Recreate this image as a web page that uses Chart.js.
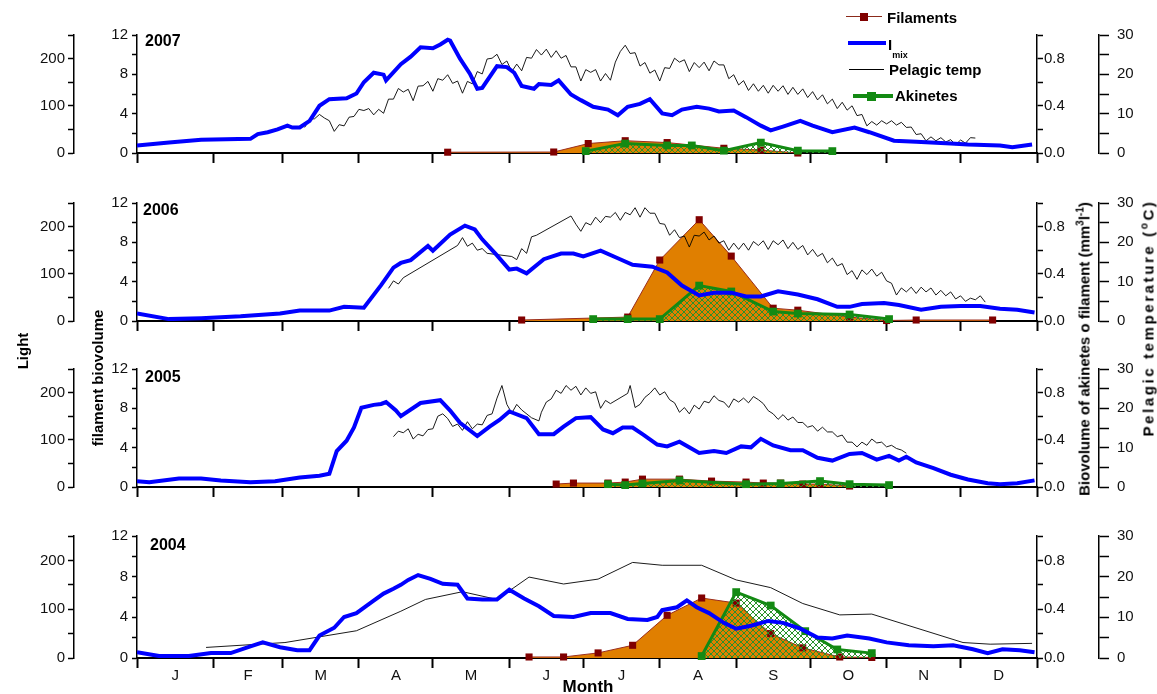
<!DOCTYPE html>
<html>
<head>
<meta charset="utf-8">
<script src="https://cdn.jsdelivr.net/npm/chart.js@4.4.0/dist/chart.umd.min.js"></script>
<style>
  body { margin: 0; background: #fff; font-family: "Liberation Sans", Arial, sans-serif; }
  #fig { position: relative; width: 1157px; height: 694px; overflow: hidden; background: #fff; }
  #fig canvas { position: absolute; left: 0; }
  .txt { position: absolute; font-weight: bold; color: #000; white-space: nowrap; line-height: 1; }
  .rot { transform: translate(-50%, -50%) rotate(-90deg); }
  .yr { font-size: 16px; }
  .lg { font-size: 15px; }
  .ln { position: absolute; }
  .sq { position: absolute; }
  sup { font-size: 10px; vertical-align: 6px; line-height: 0; }
</style>
</head>
<body>
<div id="fig">
  <canvas id="c2007" width="1157" height="152" style="top:18px"></canvas>
  <canvas id="c2006" width="1157" height="152" style="top:186px"></canvas>
  <canvas id="c2005" width="1157" height="152" style="top:352px"></canvas>
  <canvas id="c2004" width="1157" height="175" style="top:519px"></canvas>

  <div class="txt yr" style="left:145px;top:33px">2007</div>
  <div class="txt yr" style="left:143px;top:202px">2006</div>
  <div class="txt yr" style="left:145px;top:369px">2005</div>
  <div class="txt yr" style="left:150px;top:537px">2004</div>

  <div class="txt rot" style="left:22px;top:351px;font-size:15px">Light</div>
  <div class="txt rot" style="left:97px;top:378px;font-size:15px">filament biovolume</div>
  <div class="txt rot" style="left:1084px;top:349px;font-size:15px">Biovolume of akinetes o filament (mm<sup>3</sup>l<sup>-1</sup>)</div>
  <div class="txt rot" style="left:1148px;top:318px;font-size:15px;letter-spacing:2.6px">Pelagic temperature (<sup>o</sup>C)</div>
  <div class="txt" style="left:588px;top:678px;font-size:17px;transform:translateX(-50%)">Month</div>

  <!-- legend -->
  <div class="ln" style="left:846px;top:16px;width:36px;height:1px;background:#8b2a1a"></div>
  <div class="sq" style="left:860px;top:13px;width:8px;height:8px;background:#800000"></div>
  <div class="txt lg" style="left:887px;top:10px">Filaments</div>
  <div class="ln" style="left:848px;top:41px;width:38px;height:4px;background:#0000ff"></div>
  <div class="txt lg" style="left:888px;top:37px">I<span style="font-size:9px;position:relative;top:8px">mix</span></div>
  <div class="ln" style="left:849px;top:69px;width:35px;height:1px;background:#000"></div>
  <div class="txt lg" style="left:889px;top:62px">Pelagic temp</div>
  <div class="ln" style="left:853px;top:94px;width:40px;height:4px;background:#138a13"></div>
  <div class="sq" style="left:867px;top:92px;width:9px;height:9px;background:#138a13"></div>
  <div class="txt lg" style="left:895px;top:88px">Akinetes</div>
</div>

<script>
// ---- axis categories ----
const monthLetters = ['J', 'F', 'M', 'A', 'M', 'J', 'J', 'A', 'S', 'O', 'N', 'D'];
const monthStartDays = [0, 31, 59, 90, 120, 151, 181, 212, 243, 273, 304, 334, 365];
const monthMidDays = [15.5, 45, 74.5, 105, 135.5, 166, 196.5, 227.5, 258, 288.5, 319, 349.5];

// ---- 2007 ----
const imix2007Day = [0, 13, 26, 46, 49, 53, 57, 61, 63, 66, 70, 74, 78, 85, 89, 92, 96, 100, 101, 107, 111, 115, 120, 123, 126, 127, 131, 135, 138, 140, 146, 150, 153, 156, 161, 163, 168, 171, 176, 180, 185, 191, 195, 199, 204, 208, 213, 217, 221, 227, 232, 236, 242, 247, 253, 257, 262, 269, 274, 282, 291, 297, 307, 316, 330, 337, 350, 355, 363];
const imix2007 = [16, 22, 28, 30, 40, 44, 50, 58, 54, 54, 68, 100, 114, 116, 126, 150, 170, 166, 154, 188, 204, 224, 222, 230, 240, 238, 200, 168, 136, 138, 184, 182, 170, 142, 136, 146, 144, 154, 124, 112, 98, 92, 80, 98, 104, 114, 84, 80, 92, 98, 94, 88, 90, 76, 58, 48, 56, 68, 58, 44, 54, 44, 26, 24, 20, 18, 16, 12, 18];
const temp2007Day = [68, 70, 72, 74, 76, 78, 80, 82, 84, 86, 88, 90, 92, 94, 96, 98, 100, 102, 104, 106, 108, 110, 112, 114, 116, 118, 120, 122, 124, 126, 128, 130, 132, 134, 136, 138, 140, 142, 144, 146, 148, 150, 152, 154, 156, 158, 160, 162, 164, 166, 168, 170, 172, 174, 176, 178, 180, 182, 184, 186, 188, 190, 192, 194, 196, 198, 200, 202, 204, 206, 208, 210, 212, 214, 216, 218, 220, 222, 224, 226, 228, 230, 232, 234, 236, 238, 240, 242, 244, 246, 248, 250, 252, 254, 256, 258, 260, 262, 264, 266, 268, 270, 272, 274, 276, 278, 280, 282, 284, 286, 288, 290, 292, 294, 296, 298, 300, 302, 304, 306, 308, 310, 312, 314, 316, 318, 320, 322, 324, 326, 328, 330, 332, 334, 336, 338, 340];
const temp2007 = [6.5, 8.6, 8.7, 9.8, 8.9, 8.2, 5.5, 7.2, 6.9, 9.1, 9.3, 11.1, 10.8, 11.3, 9.7, 11.1, 10.1, 13.7, 13.7, 16.4, 15.5, 16.2, 13.3, 17.0, 17.1, 18.2, 15.7, 18.9, 18.5, 19.9, 17.7, 18.3, 15.2, 18.2, 17.6, 20.7, 20.1, 23.9, 24.1, 25.1, 22.5, 23.4, 20.7, 22.6, 20.9, 24.3, 24.1, 26.3, 24.9, 26.4, 24.3, 26.0, 24.1, 24.8, 21.9, 21.9, 18.3, 21.2, 20.5, 21.2, 18.3, 20.2, 18.5, 23.1, 25.8, 27.4, 25.3, 25.5, 22.1, 23.0, 20.3, 21.1, 18.3, 21.7, 21.5, 24.1, 23.1, 23.7, 20.7, 23.0, 21.7, 23.1, 20.9, 23.4, 22.4, 22.4, 18.9, 19.9, 17.3, 18.4, 15.9, 17.6, 15.7, 17.2, 15.2, 17.2, 15.7, 17.1, 14.9, 16.7, 14.9, 16.3, 14.1, 15.6, 13.5, 14.8, 12.5, 13.7, 11.3, 12.9, 10.9, 12.0, 9.5, 9.8, 6.9, 8.0, 7.1, 8.2, 7.4, 8.2, 7.1, 7.8, 6.5, 6.6, 4.7, 4.9, 3.1, 4.1, 3.1, 3.9, 2.8, 3.4, 2.1, 3.3, 2.5, 3.9, 3.8];
const fil2007Day = [126, 169, 183, 198, 215, 238, 253, 268];
const fil2007 = [0.08, 0.1, 0.96, 1.25, 1.06, 0.48, 0.3, 0.0];
const akin2007Day = [182, 198, 215, 225, 238, 253, 268, 282];
const akin2007 = [0.016, 0.08, 0.064, 0.064, 0.02, 0.088, 0.02, 0.016];

// ---- 2006 ----
const imix2006Day = [0, 13, 26, 42, 58, 66, 78, 84, 92, 99, 104, 107, 111, 118, 120, 127, 133, 137, 140, 146, 151, 154, 158, 165, 172, 177, 181, 188, 195, 201, 209, 215, 221, 228, 234, 241, 247, 253, 260, 268, 276, 284, 289, 294, 303, 309, 318, 326, 334, 342, 350, 357, 364];
const imix2006 = [16, 4, 6, 10, 16, 22, 22, 30, 28, 76, 113, 123, 129, 159, 149, 183, 202, 194, 173, 139, 109, 111, 101, 131, 143, 143, 137, 149, 133, 119, 115, 103, 75, 54, 60, 60, 52, 52, 63, 56, 46, 30, 30, 36, 38, 34, 24, 30, 32, 32, 26, 24, 18];
const temp2006Day = [102, 104, 106, 108, 130, 132, 134, 136, 138, 140, 142, 152, 154, 156, 158, 160, 162, 176, 178, 180, 182, 184, 186, 188, 190, 192, 194, 196, 198, 200, 202, 204, 206, 208, 210, 212, 214, 216, 218, 220, 222, 224, 226, 228, 230, 232, 234, 236, 238, 240, 242, 244, 246, 248, 250, 252, 254, 256, 258, 260, 262, 264, 266, 268, 270, 272, 274, 276, 278, 280, 282, 284, 286, 288, 290, 292, 294, 296, 298, 300, 302, 304, 306, 308, 310, 312, 314, 316, 318, 320, 322, 324, 326, 328, 330, 332, 334, 336, 338, 340, 342, 344];
const temp2006 = [8.3, 10.2, 9.4, 11.0, 19.2, 21.2, 19.0, 19.8, 18.0, 18.4, 17.2, 16.4, 15.6, 18.4, 17.2, 21.4, 21.8, 26.7, 24.6, 22.8, 25.0, 24.4, 26.4, 25.0, 26.6, 26.4, 27.6, 25.6, 27.6, 27.0, 28.8, 26.4, 28.8, 27.4, 27.4, 24.8, 24.6, 21.8, 23.2, 21.2, 21.6, 18.8, 21.8, 21.6, 22.6, 20.6, 21.6, 19.8, 20.4, 18.0, 19.8, 18.2, 19.8, 18.0, 20.2, 19.2, 20.4, 18.2, 20.4, 19.4, 20.6, 18.4, 20.0, 18.2, 19.2, 16.8, 18.2, 16.4, 17.2, 14.8, 16.0, 14.0, 14.6, 11.8, 12.8, 10.6, 13.0, 11.8, 13.2, 11.4, 12.4, 10.2, 9.6, 6.6, 8.4, 7.4, 8.6, 7.0, 8.6, 7.4, 8.4, 6.6, 7.8, 6.4, 7.4, 5.6, 6.4, 5.0, 5.8, 5.4, 6.4, 4.8];
const fil2006Day = [156, 199, 212, 228, 241, 258, 268, 289, 304, 316, 347];
const fil2006 = [0.1, 0.4, 6.2, 10.3, 6.6, 1.3, 1.1, 0.4, 0.05, 0.1, 0.1];
const akin2006Day = [185, 199, 212, 228, 241, 258, 268, 289, 305];
const akin2006 = [0.016, 0.016, 0.016, 0.30, 0.25, 0.08, 0.063, 0.055, 0.016];

// ---- 2005 ----
const imix2005Day = [0, 5, 17, 26, 34, 46, 56, 66, 74, 78, 81, 85, 88, 91, 96, 99, 101, 105, 107, 115, 123, 127, 131, 138, 143, 147, 151, 158, 163, 169, 173, 178, 184, 189, 193, 197, 201, 205, 211, 215, 220, 228, 234, 239, 245, 249, 253, 258, 265, 270, 276, 282, 289, 294, 300, 305, 309, 312, 316, 323, 330, 337, 345, 350, 357, 364];
const imix2005 = [12, 10, 18, 18, 14, 10, 12, 20, 24, 28, 76, 98, 126, 168, 174, 176, 180, 162, 150, 178, 184, 162, 136, 108, 128, 142, 160, 146, 112, 112, 128, 146, 148, 122, 114, 126, 126, 112, 90, 86, 96, 72, 76, 72, 86, 84, 102, 88, 78, 78, 62, 56, 70, 72, 58, 66, 56, 64, 52, 40, 26, 16, 8, 6, 8, 14];
const temp2005Day = [104, 106, 108, 110, 112, 114, 116, 118, 120, 122, 124, 126, 128, 130, 132, 134, 136, 138, 140, 142, 144, 146, 148, 150, 152, 154, 156, 160, 163, 164, 166, 168, 170, 172, 174, 176, 178, 180, 182, 184, 186, 188, 190, 192, 199, 200, 202, 204, 206, 208, 210, 212, 214, 216, 218, 220, 222, 224, 226, 228, 230, 232, 234, 236, 238, 240, 242, 244, 246, 248, 250, 252, 254, 256, 258, 260, 262, 264, 266, 268, 270, 272, 274, 276, 278, 280, 282, 284, 286, 288, 290, 292, 294, 296, 298, 300, 302, 304, 306, 308, 310, 312];
const temp2005 = [12.8, 14.2, 13.8, 14.8, 12.2, 13.4, 13.0, 14.6, 14.8, 18.0, 18.6, 17.4, 15.4, 16.0, 14.4, 16.6, 14.8, 16.0, 15.8, 18.2, 18.6, 22.6, 25.8, 21.0, 18.8, 21.0, 19.6, 17.6, 16.8, 19.0, 21.6, 22.4, 24.6, 23.8, 25.8, 24.6, 25.6, 23.4, 25.2, 23.8, 24.2, 20.0, 22.0, 21.2, 23.8, 25.8, 20.2, 21.0, 22.8, 23.8, 25.2, 23.4, 24.2, 22.2, 21.4, 19.0, 20.2, 18.6, 20.8, 19.8, 21.8, 21.4, 23.2, 22.0, 21.6, 20.2, 22.4, 21.6, 22.6, 21.4, 23.0, 22.2, 21.2, 19.4, 18.6, 17.2, 18.4, 17.0, 17.8, 16.4, 16.4, 15.2, 15.6, 14.2, 15.2, 14.0, 14.0, 12.8, 13.2, 11.4, 11.4, 10.2, 11.4, 10.6, 12.2, 11.2, 11.4, 10.2, 10.6, 9.8, 9.4, 8.6];
const fil2005Day = [170, 177, 191, 198, 205, 220, 233, 247, 254, 261, 270, 277, 289];
const fil2005 = [0.3, 0.4, 0.4, 0.5, 0.8, 0.8, 0.6, 0.5, 0.4, 0.4, 0.3, 0.3, 0.1];
const akin2005Day = [191, 198, 205, 220, 247, 261, 277, 289, 305];
const akin2005 = [0.024, 0.016, 0.03, 0.056, 0.024, 0.03, 0.05, 0.024, 0.016];

// ---- 2004 ----
const imix2004Day = [0, 9, 21, 30, 38, 46, 51, 58, 65, 70, 74, 80, 84, 89, 95, 100, 104, 107, 110, 114, 119, 124, 130, 134, 140, 146, 151, 157, 163, 169, 177, 184, 192, 199, 207, 211, 213, 219, 223, 227, 232, 238, 243, 249, 256, 262, 269, 276, 282, 288, 297, 304, 313, 323, 331, 339, 345, 351, 358, 364];
const imix2004 = [12, 4, 4, 10, 10, 24, 32, 22, 16, 16, 46, 62, 84, 92, 114, 132, 142, 150, 160, 170, 162, 152, 150, 122, 120, 120, 140, 122, 106, 86, 84, 92, 92, 80, 78, 84, 98, 104, 118, 104, 92, 72, 60, 66, 76, 72, 60, 42, 40, 46, 40, 32, 26, 24, 26, 18, 10, 18, 16, 12];
const temp2004Day = [28, 60, 89, 107, 117, 132, 146, 159, 173, 187, 201, 213, 229, 243, 257, 270, 285, 298, 335, 346, 363];
const temp2004 = [2.6, 3.8, 6.7, 11.5, 14.4, 16.3, 14.4, 19.9, 18.2, 19.4, 23.5, 22.8, 22.8, 19.2, 17.3, 13.4, 10.6, 10.8, 3.8, 3.4, 3.6];
const fil2004Day = [159, 173, 187, 201, 215, 229, 243, 257, 270, 285, 298];
const fil2004 = [0.1, 0.1, 0.5, 1.25, 4.2, 5.9, 5.4, 2.4, 1.0, 0.1, 0.05];
const akin2004Day = [229, 243, 257, 271, 284, 298];
const akin2004 = [0.016, 0.54, 0.43, 0.22, 0.07, 0.04];

const xTickDays = monthStartDays.concat(monthMidDays).sort((a, b) => a - b);

Chart.defaults.font.family = "'Liberation Sans', Arial, sans-serif";
Chart.defaults.color = '#111';

function pairs(days, vals) {
    return days.map((d, i) => ({ x: d, y: vals[i] }));
}

function hatchFor(canvas) {
    let tile = document.createElement('canvas');
    tile.width = 6;
    tile.height = 6;
    let g = tile.getContext('2d');
    g.strokeStyle = '#2a922a';
    g.lineWidth = 1;
    g.beginPath();
    g.moveTo(0, 0); g.lineTo(6, 6);
    g.moveTo(6, 0); g.lineTo(0, 6);
    g.stroke();
    return canvas.getContext('2d').createPattern(tile, 'repeat');
}

function yAxis(pos, weight, width, max, step, tickLen, pad, labelFn) {
    return {
        position: pos,
        weight: weight,
        min: 0,
        max: max,
        afterFit: s => { s.width = width; },
        ticks: { stepSize: step, padding: pad, color: '#111', font: { size: 15 }, autoSkip: false, callback: labelFn },
        grid: { drawOnChartArea: false, drawTicks: true, tickLength: tickLen, tickWidth: 1.5, tickColor: '#000' },
        border: { display: true, color: '#000', width: 1.5 }
    };
}

function drawPanel(id, p, bottom) {
    let canvas = document.getElementById(id);
    new Chart(canvas, {
        type: 'line',
        data: {
            datasets: [
                {   // Imix on light axis
                    data: pairs(p.imixDay, p.imix), yAxisID: 'yL',
                    borderColor: '#0000ff', borderWidth: 4, pointRadius: 0, fill: false
                },
                {   // pelagic temperature
                    data: pairs(p.tempDay, p.temp), yAxisID: 'yT',
                    borderColor: '#000', borderWidth: 0.9, pointRadius: 0, fill: false
                },
                {   // akinetes
                    data: pairs(p.akinDay, p.akin), yAxisID: 'yA',
                    borderColor: '#138a13', borderWidth: 3,
                    pointStyle: 'rect', pointRadius: 5.5, pointBackgroundColor: '#138a13', pointBorderWidth: 0,
                    fill: 'origin', backgroundColor: hatchFor(canvas), clip: 8
                },
                {   // filaments
                    data: pairs(p.filDay, p.fil), yAxisID: 'yF',
                    borderColor: '#9b2d1e', borderWidth: 1,
                    pointStyle: 'rect', pointRadius: 5, pointBackgroundColor: '#800000', pointBorderWidth: 0,
                    fill: 'origin', backgroundColor: '#e07f00', clip: 8
                }
            ]
        },
        options: {
            responsive: false,
            animation: false,
            devicePixelRatio: 1,
            layout: { padding: { top: 14, left: 20, right: 10, bottom: 0 } },
            plugins: { legend: { display: false }, tooltip: { enabled: false } },
            elements: { line: { tension: 0 } },
            scales: {
                x: {
                    type: 'linear', min: 0, max: 365,
                    afterBuildTicks: s => { s.ticks = xTickDays.map(v => ({ value: v })); },
                    afterFit: s => { s.height = bottom ? 36 : 13; },
                    ticks: {
                        autoSkip: false, maxRotation: 0, minRotation: 0, padding: -1,
                        color: '#111', font: { size: 15 },
                        callback: v => {
                            let k = monthMidDays.indexOf(v);
                            return bottom && k >= 0 ? monthLetters[k] : '';
                        }
                    },
                    grid: {
                        drawOnChartArea: false, tickLength: 10, tickWidth: 2,
                        tickColor: c => (c.tick && monthStartDays.includes(c.tick.value)) ? '#000' : 'rgba(0,0,0,0)'
                    },
                    border: { color: '#000', width: 2 }
                },
                yL: yAxis('left', 2, 54, 250, 50, 6, 3, v => v % 100 === 0 ? v : ''),
                yF: yAxis('left', 1, 63, 12, 2, 5, 4, v => v % 4 === 0 ? v : ''),
                yA: yAxis('right', 1, 62, 1, 0.2, 6, 1, (v, i) => (i % 2 === 0 && i < 5) ? v.toFixed(1) : ''),
                yT: yAxis('right', 2, 48, 30, 5, 10, 8, v => v % 10 === 0 ? v : '')
            }
        }
    });
}

drawPanel('c2007', { imixDay: imix2007Day, imix: imix2007, tempDay: temp2007Day, temp: temp2007, filDay: fil2007Day, fil: fil2007, akinDay: akin2007Day, akin: akin2007 }, false);
drawPanel('c2006', { imixDay: imix2006Day, imix: imix2006, tempDay: temp2006Day, temp: temp2006, filDay: fil2006Day, fil: fil2006, akinDay: akin2006Day, akin: akin2006 }, false);
drawPanel('c2005', { imixDay: imix2005Day, imix: imix2005, tempDay: temp2005Day, temp: temp2005, filDay: fil2005Day, fil: fil2005, akinDay: akin2005Day, akin: akin2005 }, false);
drawPanel('c2004', { imixDay: imix2004Day, imix: imix2004, tempDay: temp2004Day, temp: temp2004, filDay: fil2004Day, fil: fil2004, akinDay: akin2004Day, akin: akin2004 }, true);
</script>
</body>
</html>
